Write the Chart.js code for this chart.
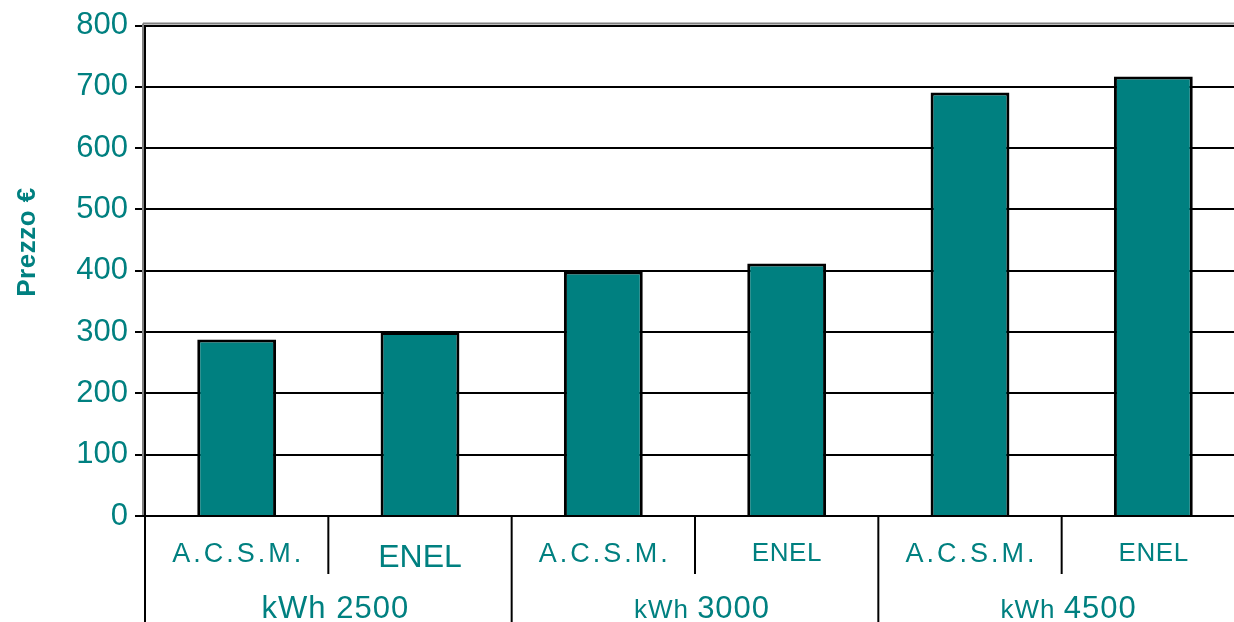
<!DOCTYPE html>
<html>
<head>
<meta charset="utf-8">
<script src="https://cdn.jsdelivr.net/npm/chart.js@4/dist/chart.umd.min.js"></script>
<style>
  html, body { margin: 0; padding: 0; background: #fff; overflow: hidden; }
  #wrap { position: absolute; left: 0; top: 0; }
</style>
</head>
<body>
<div id="wrap"><canvas id="prezzi" width="1250" height="622"></canvas></div>
<script>
const companies = ["A.C.S.M.", "ENEL", "A.C.S.M.", "ENEL", "A.C.S.M.", "ENEL"];
const consumption = ["2500", "3000", "4500"];
const prices = [288, 300, 399, 412, 691, 717];
const yMin = 0;
const yMax = 800;
const yStep = 100;

const TEAL = "#008080";
const FONT = "'Liberation Sans', Arial, sans-serif";

// label font per category (the first ENEL is set bigger in the original)
const companyFonts = [
  { size: 27, spacing: 3, base: 562 },
  { size: 32, spacing: 0, base: 567 },
  { size: 27, spacing: 3, base: 562 },
  { size: 26, spacing: 0.6, base: 561 },
  { size: 27, spacing: 3, base: 562 },
  { size: 26, spacing: 0.6, base: 561 },
];

const multiLevelAxis = {
  id: "multiLevelAxis",
  afterDraw(chart) {
    const { ctx, chartArea, scales } = chart;
    const x = scales.x;
    const step = x.getPixelForValue(1) - x.getPixelForValue(0);
    const bottom = chartArea.bottom;
    ctx.save();

    // frame shadows (grey) on left and top
    ctx.strokeStyle = "#808080";
    ctx.lineWidth = 2;
    ctx.beginPath();
    ctx.moveTo(chartArea.left - 2, chartArea.top - 2);
    ctx.lineTo(chartArea.left - 2, bottom);
    ctx.moveTo(chartArea.left - 2, chartArea.top - 2);
    ctx.lineTo(chartArea.right, chartArea.top - 2);
    ctx.stroke();

    // axis lines
    ctx.strokeStyle = "#000";
    ctx.lineWidth = 2;
    ctx.beginPath();
    ctx.moveTo(chartArea.left, chartArea.top);
    ctx.lineTo(chartArea.left, chart.height);
    ctx.moveTo(chartArea.left - 10, bottom);
    ctx.lineTo(chartArea.right, bottom);
    ctx.stroke();

    // dividers between categories
    companies.forEach((name, i) => {
      const edge = x.getPixelForValue(i) + step / 2;
      const groupEnd = i % 2 === 1;
      ctx.beginPath();
      ctx.moveTo(edge, bottom);
      ctx.lineTo(edge, groupEnd ? chart.height : 574);
      ctx.stroke();
    });

    // first row: companies
    ctx.fillStyle = TEAL;
    ctx.textAlign = "center";
    ctx.textBaseline = "alphabetic";
    companies.forEach((name, i) => {
      const f = companyFonts[i];
      ctx.font = f.size + "px " + FONT;
      ctx.letterSpacing = f.spacing + "px";
      ctx.fillText(name, x.getPixelForValue(i) + f.spacing / 2, f.base);
    });

    // second row: consumption groups
    ctx.letterSpacing = "1px";
    ctx.textAlign = "left";
    consumption.forEach((kwh, g) => {
      const center = (x.getPixelForValue(g * 2) + x.getPixelForValue(g * 2 + 1)) / 2 + 7;
      const unitSize = g === 0 ? 31 : 26;
      ctx.font = unitSize + "px " + FONT;
      const unitW = ctx.measureText("kWh ").width;
      ctx.font = "31px " + FONT;
      const numW = ctx.measureText(kwh).width;
      let left = center - (unitW + numW) / 2;
      ctx.font = unitSize + "px " + FONT;
      ctx.fillText("kWh ", left, 618);
      ctx.font = "31px " + FONT;
      ctx.fillText(kwh, left + unitW, 618);
    });

    // y axis title
    ctx.letterSpacing = "0.5px";
    ctx.translate(35, 242);
    ctx.rotate(-Math.PI / 2);
    ctx.textAlign = "center";
    ctx.font = "bold 26px " + FONT;
    ctx.fillText("Prezzo €", 0, 0);
    ctx.restore();
  },
};

new Chart(document.getElementById("prezzi"), {
  type: "bar",
  data: {
    labels: companies,
    datasets: [
      {
        label: "Prezzo €",
        data: prices,
        backgroundColor: TEAL,
        borderColor: "#000",
        borderWidth: 3,
        categoryPercentage: 1,
        barPercentage: 0.43,
      },
    ],
  },
  options: {
    responsive: false,
    animation: false,
    layout: { padding: { left: 0, top: 23, right: 5, bottom: 106 } },
    plugins: {
      legend: { display: false },
      tooltip: { enabled: false },
    },
    scales: {
      x: { display: false },
      y: {
        min: yMin,
        max: yMax,
        afterFit: (scale) => {
          scale.width = 145;
        },
        border: { display: false },
        grid: { color: "#000", lineWidth: 2, tickLength: 10 },
        ticks: {
          stepSize: yStep,
          padding: 7,
          color: TEAL,
          font: { family: FONT, size: 31 },
        },
      },
    },
  },
  plugins: [multiLevelAxis],
});
</script>
</body>
</html>
